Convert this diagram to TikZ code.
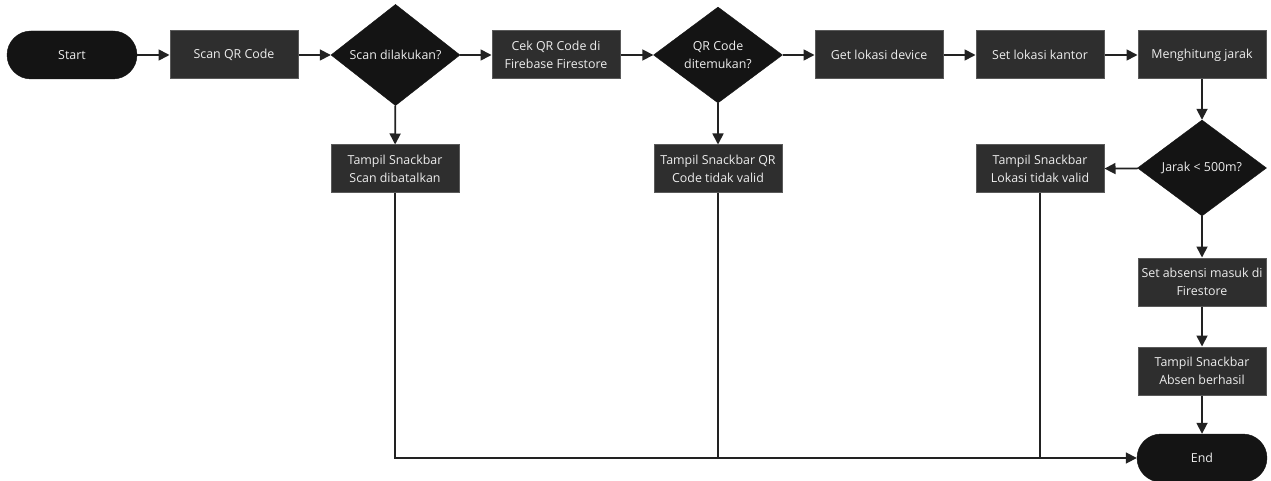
\documentclass[tikz,border=0pt]{standalone}
\usepackage{fontspec}
\setmainfont{Open Sans}
\usetikzlibrary{shapes.geometric,arrows.meta}
\definecolor{boxfill}{HTML}{2E2E2E}
\definecolor{boxline}{HTML}{5A5A5A}
\definecolor{darkfill}{HTML}{141414}
\definecolor{labeltxt}{HTML}{EDEDED}
\definecolor{wire}{HTML}{222222}
\tikzset{
  base/.style={text=labeltxt, font=\fontsize{12.4}{18}\selectfont, align=center, inner sep=0pt},
  procbox/.style={base, rectangle, fill=boxfill, draw=boxline, line width=1pt,
    minimum width=128pt, minimum height=48pt},
  decision/.style={base, diamond, fill=darkfill, draw=darkfill,
    minimum width=129pt, minimum height=96pt},
  terminal/.style={base, rectangle, rounded corners=24pt, fill=darkfill, draw=darkfill,
    minimum width=130pt, minimum height=48pt},
  flow/.style={draw=wire, line width=1.7pt, -{Triangle[length=11pt,width=11pt]}},
  plain/.style={draw=wire, line width=1.7pt}
}
\begin{document}
\begin{tikzpicture}[x=1pt,y=-1pt]
  \fill[white] (0,0) rectangle (1271,481);
  \useasboundingbox (0,0) rectangle (1271,481);

  % top row
  \node[terminal] (start) at (72,55) {Start};
  \node[procbox] (scan) at (234,55) {Scan QR Code};
  \node[decision] (d1) at (395.5,55) {Scan dilakukan?};
  \node[procbox] (cek) at (556,55) {Cek QR Code di\\Firebase Firestore};
  \node[decision] (d2) at (718,55) {QR Code\\ditemukan?};
  \node[procbox] (get) at (879,55) {Get lokasi device};
  \node[procbox] (setk) at (1040,55) {Set lokasi kantor};
  \node[procbox] (hit) at (1202,55) {Menghitung jarak};

  % second row
  \node[procbox] (batal) at (395,169) {Tampil Snackbar\\Scan dibatalkan};
  \node[procbox] (qrinv) at (718,169) {Tampil Snackbar QR\\Code tidak valid};
  \node[procbox] (lok) at (1040,169) {Tampil Snackbar\\Lokasi tidak valid};
  \node[decision] (d3) at (1202,168) {Jarak < 500m?};

  % right column
  \node[procbox] (absen) at (1202,282) {Set absensi masuk di\\Firestore};
  \node[procbox] (hasil) at (1202,371) {Tampil Snackbar\\Absen berhasil};
  \node[terminal] (end) at (1202,458) {End};

  % connectors
  \draw[flow] (start) -- (scan);
  \draw[flow] (scan) -- (d1);
  \draw[flow] (d1) -- (cek);
  \draw[flow] (cek) -- (d2);
  \draw[flow] (d2) -- (get);
  \draw[flow] (get) -- (setk);
  \draw[flow] (setk) -- (hit);
  \draw[flow] (hit) -- (d3);
  \draw[flow] (d1) -- (batal);
  \draw[flow] (d2) -- (qrinv);
  \draw[flow] (d3) -- (lok);
  \draw[flow] (d3) -- (absen);
  \draw[flow] (absen) -- (hasil);
  \draw[flow] (hasil) -- (end);

  % failure paths merging into End
  \draw[flow] (batal.south) -- (batal.south |- end.west) -- (end.west);
  \draw[plain] (qrinv.south) -- (qrinv.south |- end.west);
  \draw[plain] (lok.south) -- (lok.south |- end.west);
\end{tikzpicture}
\end{document}
